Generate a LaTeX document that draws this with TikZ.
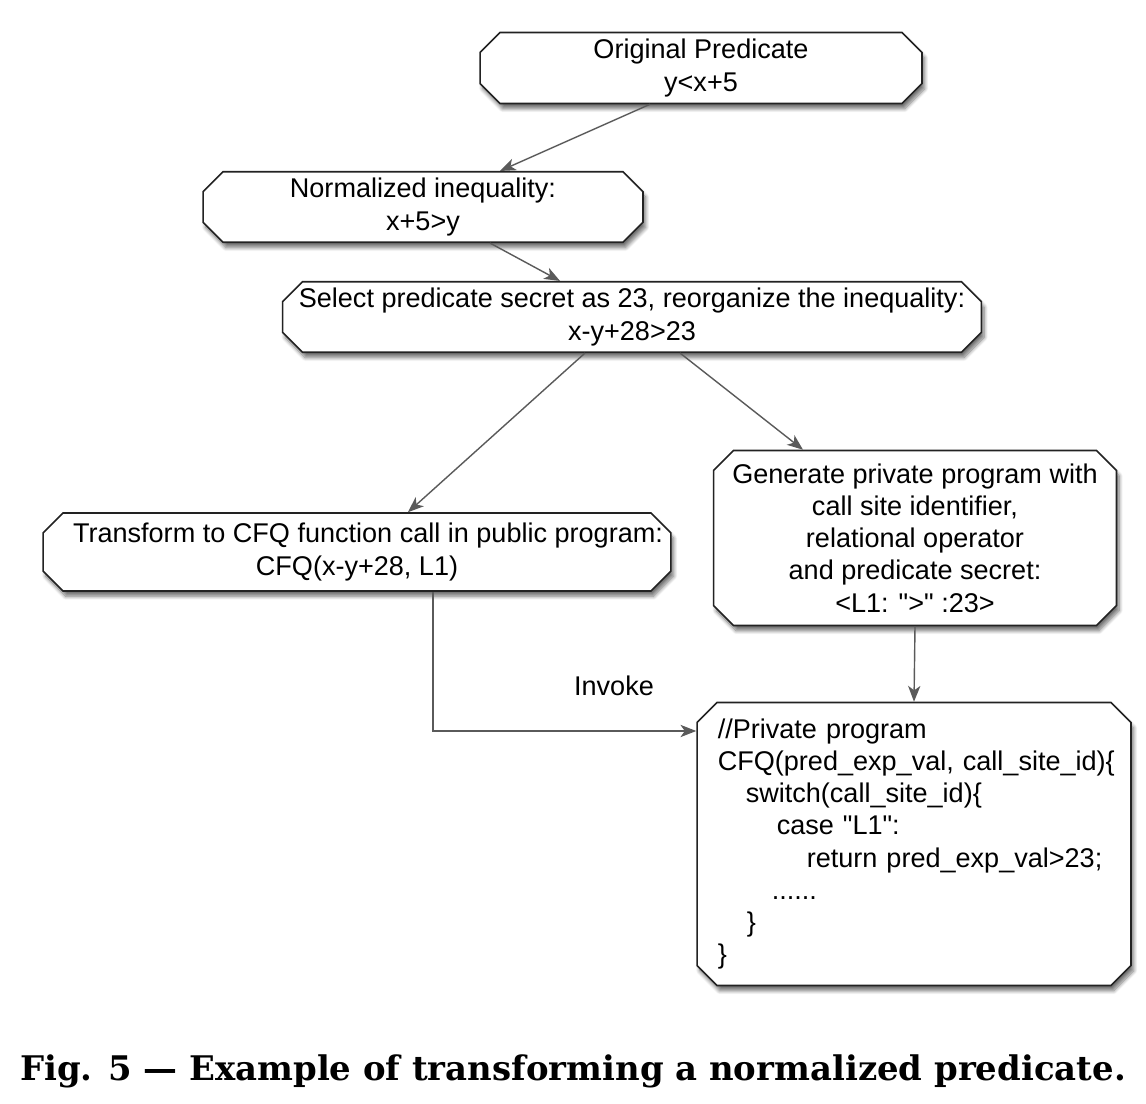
\documentclass[tikz,border=0pt]{standalone}
\usepackage{fontspec}
\setmainfont{Liberation Sans}
\newfontfamily\captionFont{DejaVu Serif}
\usetikzlibrary{shapes.misc, shadows.blur, arrows.meta}

\definecolor{borderColour}{HTML}{222222}
\definecolor{arrowColour}{HTML}{5A5A5A}

% Straight double quote (no TeX mapping)
\newcommand{\dq}{\XeTeXglyph\XeTeXglyphindex "quotedbl"\relax}

\begin{document}
\begin{tikzpicture}[x=0.02cm, y=-0.02cm,
    stepBox/.style={chamfered rectangle, chamfered rectangle xsep=0.2cm,
        chamfered rectangle ysep=0.2cm, draw=borderColour, fill=white,
        line width=0.9pt, inner xsep=0pt, inner ysep=-2pt, align=center,
        font=\fontsize{15.4}{18.4}\selectfont,
        blur shadow={shadow xshift=1.5pt, shadow yshift=-3pt, shadow blur steps=8, shadow opacity=55}},
    flowArrow/.style={draw=arrowColour, line width=0.8pt,
        -{Stealth[length=9pt, width=7pt, inset=2.5pt]}}]

    % Fix the page size
    \useasboundingbox (0,0) rectangle (1146,1104);

    % Draw the boxes
    \node[stepBox, minimum width=8.84cm, minimum height=1.42cm] (original) at (701,68)
        {Original Predicate\\y<x+5};
    \node[stepBox, minimum width=8.8cm, minimum height=1.38cm] (normalized) at (423,207)
        {Normalized inequality:\\x+5>y};
    \node[stepBox, minimum width=13.98cm, minimum height=1.4cm] (secret) at (632,317)
        {Select predicate secret as 23, reorganize the inequality:\\x-y+28>23};
    \node[stepBox, minimum width=12.56cm, minimum height=1.56cm] (public) at (357,552)
        {\hspace*{0.22cm}Transform to CFQ function call in public program:\hspace*{-0.22cm}\\CFQ(x-y+28, L1)};
    \node[stepBox, minimum width=8.06cm, minimum height=3.5cm] (generate) at (915,538)
        {Generate private program with\\call site identifier,\\relational operator\\and predicate secret:\\<L1: \dq>\dq{} :23>};
    \node[stepBox, minimum width=8.68cm, minimum height=5.66cm, text width=7.85cm, align=left,
        font=\fontsize{15.4}{18.3}\selectfont] (private) at (914,844)
        {//Private program\\
         \mbox{CFQ(pred\_exp\_val, call\_site\_id)\{}\\
         \hspace*{0.56cm}switch(call\_site\_id)\{\\
         \hspace*{1.18cm}case \dq L1\dq:\\
         \hspace*{1.78cm}return pred\_exp\_val>23;\\
         \hspace*{1.08cm}......\\
         \hspace*{0.58cm}\}\\
         \}};

    % Draw the connectors
    \coordinate (bend) at (433,731);
    \draw[flowArrow] ([xshift=-1.02cm]original.south) -- ([xshift=1.54cm]normalized.north);
    \draw[flowArrow] ([xshift=1.34cm]normalized.south) -- ([xshift=-1.44cm]secret.north);
    \draw[flowArrow] ([xshift=-0.94cm]secret.south) -- ([xshift=1.02cm]public.north);
    \draw[flowArrow] ([xshift=0.96cm]secret.south) -- ([xshift=-2.24cm]generate.north);
    \draw[flowArrow] (public.south -| bend) -- (bend) -- (bend -| private.west);
    \draw[flowArrow] (generate.south) -- (private.north);

    % Label the call
    \node[font=\fontsize{15.4}{18.4}\selectfont] (invoke) at (614,686) {Invoke};

    % Caption
    \node[font=\captionFont\bfseries\fontsize{19.3}{22}\selectfont] (caption) at (573,1071)
        {Fig. 5 — Example of transforming a normalized predicate.};

\end{tikzpicture}
\end{document}
